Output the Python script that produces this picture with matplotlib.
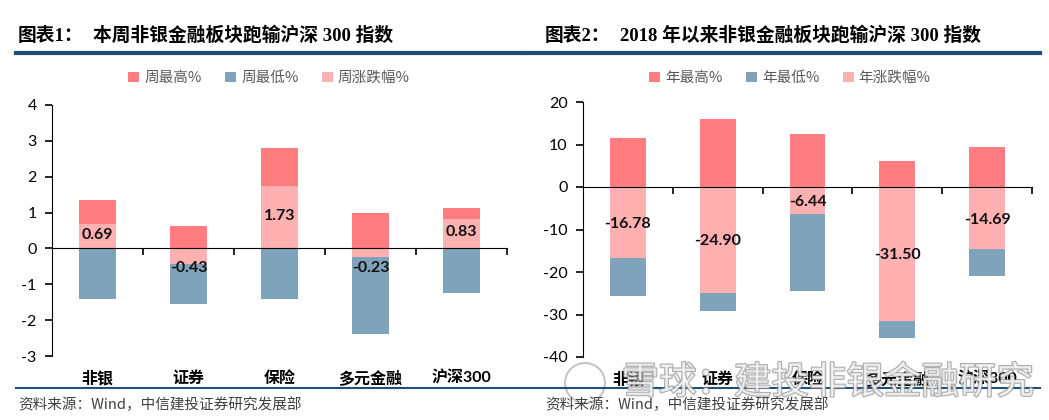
import matplotlib.pyplot as plt
import matplotlib.patheffects as pe
from matplotlib.lines import Line2D
from matplotlib.patches import Ellipse

plt.rcParams['font.family'] = ['Lato', 'Noto Sans CJK SC', 'DejaVu Sans']

categories = ['非银', '证券', '保险', '多元金融', '沪深300']

# chart 1: this week
week_high = [1.35, 0.62, 2.80, 1.00, 1.12]
week_low = [-1.40, -1.55, -1.42, -2.38, -1.25]
week_chg = [0.69, -0.43, 1.73, -0.23, 0.83]
week_labels = ['周最高%', '周最低%', '周涨跌幅%']

# chart 2: since 2018
year_high = [11.5, 16.0, 12.4, 6.2, 9.3]
year_low = [-25.6, -29.2, -24.5, -35.5, -20.9]
year_chg = [-16.78, -24.90, -6.44, -31.50, -14.69]
year_labels = ['年最高%', '年最低%', '年涨跌幅%']

c_high = '#FF7C80'
c_low = '#7FA3BB'
c_chg = '#FFB0B0'
navy = '#1F4E79'

W, H = 1049, 420
fig = plt.figure(figsize=(W / 100, H / 100), dpi=100)


def px(x, y):
    return x / W, 1 - y / H


def draw_panel(rect, high, low, chg, labels, ylim, yticks, small_neg, legend_x):
    ax = fig.add_axes(rect)
    x = range(len(categories))
    b1 = ax.bar(x, high, width=0.4, color=c_high, zorder=2)
    b2 = ax.bar(x, low, width=0.4, color=c_low, zorder=2)
    b3 = ax.bar(x, chg, width=0.4, color=c_chg, zorder=3)

    ax.set_xlim(-0.5, len(categories) - 0.5)
    ax.set_ylim(*ylim)
    ax.set_yticks(yticks)
    ax.set_yticklabels([str(t) for t in yticks], fontsize=11.5)
    ax.spines['top'].set_visible(False)
    ax.spines['right'].set_visible(False)
    ax.spines['bottom'].set_position(('data', 0))
    ax.spines['bottom'].set_zorder(4)
    ax.set_xticks([i + 0.5 for i in x])
    ax.set_xticklabels([])
    ax.tick_params(axis='x', direction='out', length=5, width=1.2)
    ax.tick_params(axis='y', direction='out', length=5, width=1.2, pad=6)

    for i, name in enumerate(categories):
        ax.annotate(name, xy=(i, 0), xycoords=('data', 'axes fraction'),
                    xytext=(0, -16), textcoords='offset points',
                    ha='center', va='center', fontsize=11.5, fontweight='bold')

    for i, v in enumerate(chg):
        if v < 0 and small_neg is not None:
            y = min(v / 2, small_neg)
        else:
            y = v / 2
        ax.annotate('%.2f' % v, xy=(i, y), xytext=(0, -1 if v < 0 else 1),
                    textcoords='offset points', ha='center', va='center',
                    fontsize=11.5, fontweight='bold', color='#111111', zorder=5)

    fig.legend([b1, b2, b3], labels, loc='center', bbox_to_anchor=(legend_x, px(0, 78)[1]),
               ncol=3, frameon=False, handlelength=0.75, handleheight=0.75,
               handletextpad=0.35, columnspacing=1.6,
               labelcolor='#595959', prop={'family': ['Noto Sans CJK SC'], 'size': 10.5})
    return ax


draw_panel([52 / W, 1 - 356 / H, 455 / W, 251 / H], week_high, week_low, week_chg,
           week_labels, (-3, 4), list(range(-3, 5)), -0.52, 269 / W)
draw_panel([583 / W, 1 - 357 / H, 449 / W, 255 / H], year_high, year_low, year_chg,
           year_labels, (-40, 20), list(range(-40, 21, 10)), None, 790 / W)

# titles
title_font = ['Liberation Serif', 'Noto Sans CJK SC']
fig.text(*px(18, 36), '图表1：', fontsize=13.5, fontweight='bold', family=title_font, va='center')
fig.text(*px(93, 36), '本周非银金融板块跑输沪深 300 指数', fontsize=13.5, fontweight='bold',
         family=title_font, va='center')
fig.text(*px(545, 36), '图表2：', fontsize=13.5, fontweight='bold', family=title_font, va='center')
fig.text(*px(620, 36), '2018 年以来非银金融板块跑输沪深 300 指数', fontsize=13.5, fontweight='bold',
         family=title_font, va='center')

# header / footer rules
fig.add_artist(Line2D([16 / W, 525 / W], [px(0, 53)[1]] * 2, color=navy, lw=3))
fig.add_artist(Line2D([528 / W, 1040 / W], [px(0, 53)[1]] * 2, color=navy, lw=3))
fig.add_artist(Line2D([16 / W, 1040 / W], [px(0, 388)[1]] * 2, color=navy, lw=1.5))

# source notes
src = '资料来源：Wind，中信建投证券研究发展部'
fig.text(*px(18, 405), src, fontsize=10.5, color='#404040', va='center',
         family=['Noto Sans CJK SC'])
fig.text(*px(545, 405), src, fontsize=10.5, color='#404040', va='center',
         family=['Noto Sans CJK SC'])

# watermark
fig.add_artist(Ellipse(px(585, 383), 40 / W, 40 / H, facecolor='white', alpha=0.5,
                       edgecolor='#8c8c8c', lw=1.5))
fig.text(*px(1034, 383), '雪球：建投非银金融研究', fontsize=27, color='white', alpha=0.7,
         ha='right', va='center', family=['Noto Sans CJK SC'],
         path_effects=[pe.withStroke(linewidth=1.6, foreground='#8c8c8c')])

fig.savefig('out.png', dpi=100)
